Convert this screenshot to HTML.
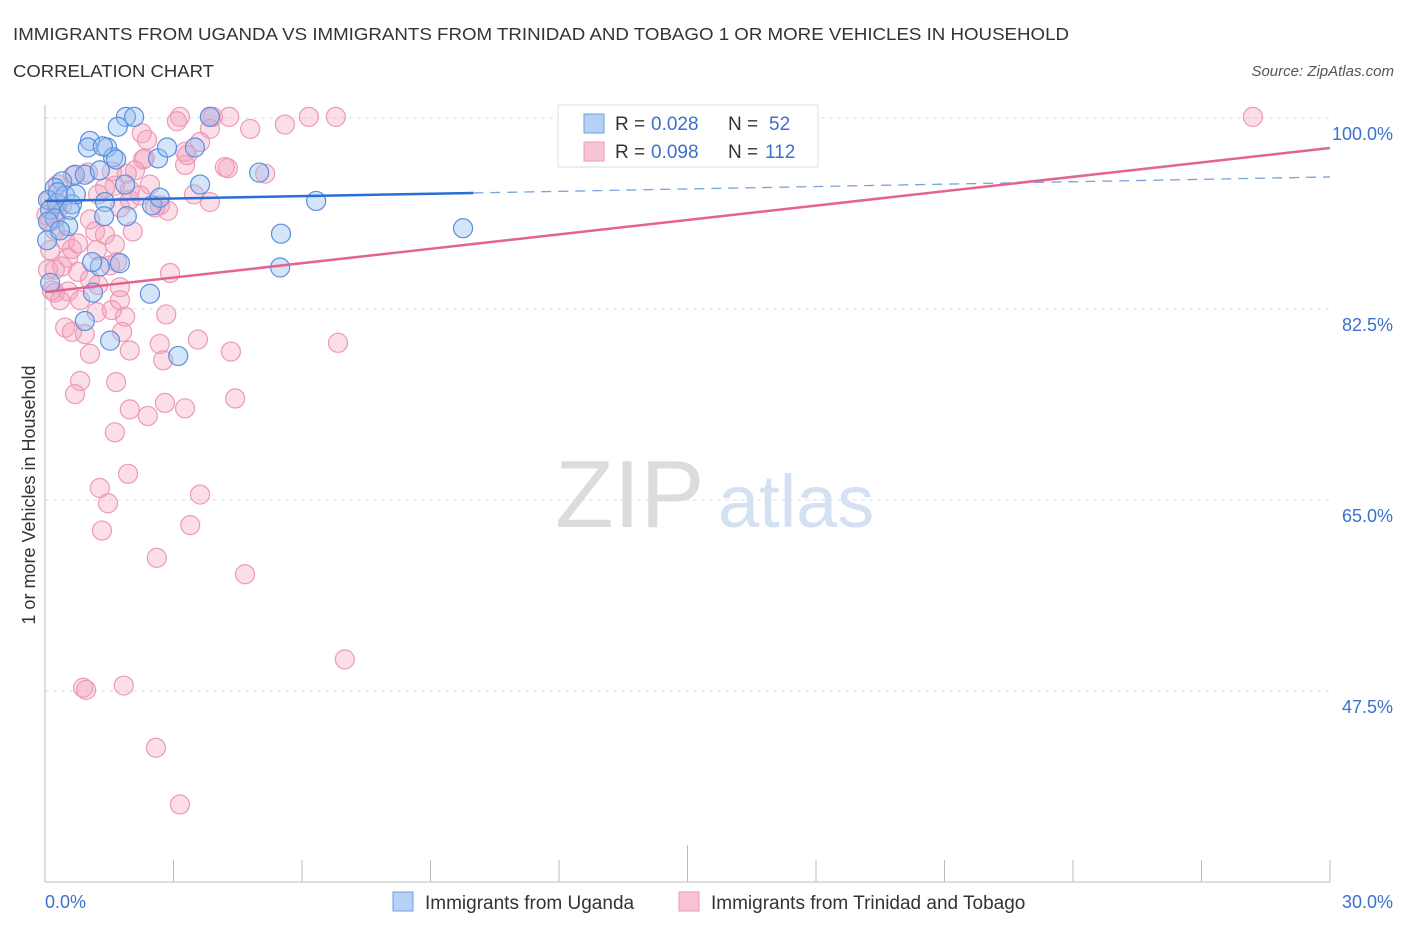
<!DOCTYPE html>
<html><head><meta charset="utf-8"><style>
body{margin:0;background:#fff;font-family:"Liberation Sans",sans-serif;}
svg text{font-family:"Liberation Sans",sans-serif;}
</style></head><body>
<svg id="chart" width="1406" height="930" xmlns="http://www.w3.org/2000/svg">
<text x="13" y="40" font-size="17.5" fill="#333" textLength="1056" lengthAdjust="spacingAndGlyphs">IMMIGRANTS FROM UGANDA VS IMMIGRANTS FROM TRINIDAD AND TOBAGO 1 OR MORE VEHICLES IN HOUSEHOLD</text>
<text x="13" y="77" font-size="17.5" fill="#333" textLength="201" lengthAdjust="spacingAndGlyphs">CORRELATION CHART</text>
<text x="1394" y="76" font-size="15" fill="#555" font-style="italic" text-anchor="end">Source: ZipAtlas.com</text>
<g>
<text x="555" y="527" font-size="96" fill="#dcdcdc" font-family="Liberation Serif, serif">ZIP</text>
<text x="718" y="527" font-size="74" fill="#d3e1f3">atlas</text>
</g>
<g id="grid"></g>
<g id="axes"></g>
<g id="marks"></g>
<g id="trends"></g>
<text x="35" y="495" font-size="18" fill="#333" transform="rotate(-90 35 495)" text-anchor="middle">1 or more Vehicles in Household</text>
<g>
<rect x="558" y="105" width="260" height="62" fill="#fff" stroke="#ddd"/>
<rect x="584" y="114" width="20" height="19" fill="#b7d0f5" stroke="#6f9ee0"/>
<rect x="584" y="142" width="20" height="19" fill="#f8c3d4" stroke="#eb9ab6"/>
<text x="615" y="130" font-size="19" fill="#333">R =</text>
<text x="651" y="130" font-size="19" fill="#3a70d0">0.028</text>
<text x="728" y="130" font-size="19" fill="#333">N =</text>
<text x="769" y="130" font-size="19" fill="#3a70d0">52</text>
<text x="615" y="158" font-size="19" fill="#333">R =</text>
<text x="651" y="158" font-size="19" fill="#3a70d0">0.098</text>
<text x="728" y="158" font-size="19" fill="#333">N =</text>
<text x="765" y="158" font-size="19" fill="#3a70d0">112</text>
</g>
<g>
<rect x="393" y="892" width="20" height="19" fill="#b7d0f5" stroke="#6f9ee0"/>
<text x="425" y="909" font-size="19" fill="#333">Immigrants from Uganda</text>
<rect x="679" y="892" width="20" height="19" fill="#f8c3d4" stroke="#eb9ab6"/>
<text x="711" y="909" font-size="19" fill="#333">Immigrants from Trinidad and Tobago</text>
</g>
</svg>
<script>
const yTicks=[100,82.5,65,47.5];
const yTickLabels=["100.0%","82.5%","65.0%","47.5%"];
const xTickLabels=["0.0%","30.0%"];
const blueX=[1.89,2.08,1.70,1.05,1.00,1.45,1.59,1.66,2.64,2.85,3.50,3.62,5.00,0.70,0.40,0.23,0.07,0.28,0.47,0.63,0.12,0.23,0.54,1.40,1.38,1.91,2.50,1.75,1.28,1.10,1.12,2.45,0.93,1.52,3.11,5.51,5.49,6.33,9.76,3.85,0.07,0.12,0.30,0.72,0.93,0.05,0.35,0.58,1.28,2.68,1.35,1.87];
const blueY=[100.1,100.1,99.2,97.9,97.3,97.3,96.4,96.2,96.3,97.3,97.3,93.9,95.0,94.8,94.2,93.6,92.5,92.2,92.9,92.1,91.6,90.8,90.1,92.3,91.0,91.0,92.0,86.7,86.4,86.8,84.0,83.9,81.4,79.6,78.2,89.4,86.3,92.4,89.9,100.1,90.5,84.9,93.2,93.0,94.8,88.8,89.7,91.6,95.2,92.7,97.4,93.9];
const pinkX=[28.2,3.15,3.08,3.85,3.92,4.30,5.60,6.16,6.79,3.85,4.79,2.26,2.38,3.62,3.27,3.32,2.29,2.33,3.27,4.20,4.27,5.14,2.10,1.91,1.56,1.00,0.65,1.63,1.40,1.24,1.98,1.75,2.57,2.68,2.87,3.48,3.85,0.40,0.28,0.12,0.23,0.47,0.63,1.21,1.17,1.40,2.05,1.68,1.52,0.54,0.40,0.23,0.77,1.05,1.24,1.75,0.54,0.23,2.92,2.83,1.21,1.87,1.56,0.47,0.63,0.93,1.05,1.80,2.68,2.76,3.57,4.34,6.84,0.82,1.66,0.70,1.98,2.80,2.40,3.27,4.44,1.63,1.28,1.94,3.62,1.47,1.33,3.39,2.61,4.67,7.00,0.89,0.96,1.84,2.59,3.15,0.12,0.07,0.16,0.12,0.30,0.03,1.98,2.22,0.82,1.05,0.77,1.63,1.75,1.98,0.35,2.45];
const pinkY=[100.1,100.1,99.7,100.1,100.1,100.1,99.4,100.1,100.1,99.0,99.0,98.6,98.0,97.8,96.9,96.6,96.2,96.3,95.7,95.5,95.4,94.9,95.2,94.9,95.1,95.0,94.7,93.8,93.6,93.0,92.5,91.8,91.8,92.0,91.5,93.0,92.3,92.0,91.5,90.5,89.7,88.8,88.0,87.9,89.6,89.3,89.6,86.8,86.5,87.2,86.4,86.1,85.9,85.2,84.7,84.5,84.1,84.0,85.8,82.0,82.2,81.8,82.4,80.8,80.4,80.2,78.4,80.4,79.3,77.8,79.7,78.6,79.4,75.9,75.8,74.7,73.3,73.9,72.7,73.4,74.3,71.2,66.1,67.4,65.5,64.7,62.2,62.7,59.7,58.2,50.4,47.8,47.6,48.0,42.3,37.1,87.9,86.1,84.2,92.5,93.9,91.1,93.4,92.9,83.3,90.7,88.5,88.4,83.3,78.7,83.3,93.9];
const blueTrend=[92.4,94.6];
const pinkTrend=[84.06,97.25];
const NS="http://www.w3.org/2000/svg";
function sx(v){return 45+v/30*1285;}
function sy(v){return 118+(100-v)/17.5*191;}
function mk(t,a,p){const e=document.createElementNS(NS,t);for(const k in a)e.setAttribute(k,a[k]);p.appendChild(e);return e;}
const grid=document.getElementById('grid'),axes=document.getElementById('axes'),marks=document.getElementById('marks'),trends=document.getElementById('trends');
yTicks.forEach((t,i)=>{
 const l=mk('line',{x1:45,x2:1330,y1:sy(t),y2:sy(t),stroke:'#ddd','stroke-dasharray':'4,4'},grid);
 
 
 const tx=mk('text',{x:1393,y:sy(t)+22,'font-size':18,fill:'#3a70d0','text-anchor':'end'},axes);
 tx.textContent=yTickLabels[i];
 
 
});
const ya=mk('line',{x1:45,x2:45,y1:105,y2:882,stroke:'#bbb'},axes);


const xa=mk('line',{x1:45,x2:1330,y1:882,y2:882,stroke:'#bbb'},axes);


for(let i=0;i<=10;i++){
 const x=sx(i*3);
 const tk=mk('line',{x1:x,x2:x,y1:i==5?845:860,y2:882,stroke:'#bbb'},axes);
 
 
}
[[0,'start',45],[30,'end',1393]].forEach((d,i)=>{
 const tx=mk('text',{x:d[2],y:908,'font-size':18,fill:'#3a70d0','text-anchor':d[1]},axes);
 tx.textContent=xTickLabels[i];
 
 
});
pinkX.forEach((v,i)=>{
 const c=mk('circle',{cx:sx(v),cy:sy(pinkY[i]),r:9.5,fill:'rgba(244,160,190,0.35)',stroke:'#ec9ab5','stroke-width':1.2},marks);
 
 
});
blueX.forEach((v,i)=>{
 const c=mk('circle',{cx:sx(v),cy:sy(blueY[i]),r:9.5,fill:'rgba(150,190,240,0.4)',stroke:'#5b8fdc','stroke-width':1.2},marks);
 
 
});
const bAt=x=>blueTrend[0]+(blueTrend[1]-blueTrend[0])*x/30;
const b1=mk('line',{x1:sx(0),y1:sy(bAt(0)),x2:sx(10),y2:sy(bAt(10)),stroke:'#2a6fd6','stroke-width':2.5},trends);


const b2=mk('line',{x1:sx(10),y1:sy(bAt(10)),x2:sx(30),y2:sy(bAt(30)),stroke:'#7aa3dd','stroke-width':1.3,'stroke-dasharray':'10,7'},trends);


const p1=mk('line',{x1:sx(0),y1:sy(pinkTrend[0]),x2:sx(30),y2:sy(pinkTrend[1]),stroke:'#e5648f','stroke-width':2.5},trends);


</script>
</body></html>
